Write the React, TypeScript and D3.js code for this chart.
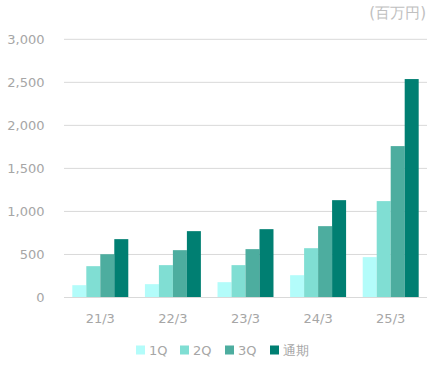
import React from "react";
import * as d3 from "d3";

const categories = ["21/3", "22/3", "23/3", "24/3", "25/3"];
const seriesNames = ["1Q", "2Q", "3Q", "通期"];
const q1 = [143, 155, 178, 259, 469];
const q2 = [364, 376, 376, 573, 1120];
const q3 = [503, 550, 562, 829, 1759];
const full = [678, 771, 794, 1131, 2538];
const yTicks = [0, 500, 1000, 1500, 2000, 2500, 3000];
const colors = ["#b3fcfa", "#80ded3", "#4dad9f", "#007f72"];

export default function App() {
  const W = 438, H = 373;
  const left = 64, right = 427, top = 39.3, bottom = 297.5;
  const series = [q1, q2, q3, full];
  const x = d3.scaleBand<string>().domain(categories).range([left, right]).paddingInner(0.229).paddingOuter(0.1145);
  const xi = d3.scaleBand<string>().domain(seriesNames).range([0, x.bandwidth()]);
  const y = d3.scaleLinear().domain([0, 3000]).range([bottom, top]);
  const fmt = d3.format(",");
  const font = "'DejaVu Sans', Verdana, sans-serif";
  const textColor = "#a6a6a6";
  const legendX = [136, 180, 225, 270];
  return (
    <svg width={W} height={H} style={{ position: "absolute", left: 0, top: 0 }} fontFamily={font}>
      <text x={426} y={13} dy="0.35em" textAnchor="end" fontSize={15} fill="#c0c0c0">(百万円)</text>
      {yTicks.map((t) => (
        <g key={t}>
          {t > 0 && <line x1={left} x2={right} y1={y(t)} y2={y(t)} stroke="#d9d9d9" strokeWidth={1} />}
          <text x={44.5} y={y(t)} dy="0.35em" textAnchor="end" fontSize={13} fill={textColor}>{fmt(t)}</text>
        </g>
      ))}
      {categories.map((c, ci) => (
        <g key={c}>
          {series.map((s, si) => (
            <rect key={si} x={(x(c) as number) + (xi(seriesNames[si]) as number)} width={xi.bandwidth()}
              y={y(s[ci])} height={bottom - y(s[ci])} fill={colors[si]} />
          ))}
          <text x={(x(c) as number) + x.bandwidth() / 2} y={318} dy="0.35em" textAnchor="middle" fontSize={13} fill={textColor}>{c}</text>
        </g>
      ))}
      <line x1={left} x2={right} y1={bottom} y2={bottom} stroke="#d9d9d9" strokeWidth={1.2} />
      {seriesNames.map((n, i) => (
        <g key={n}>
          <rect x={legendX[i]} y={345.5} width={9} height={9} fill={colors[i]} />
          <text x={legendX[i] + 13} y={350} dy="0.35em" fontSize={13} fill={textColor}>{n}</text>
        </g>
      ))}
    </svg>
  );
}
